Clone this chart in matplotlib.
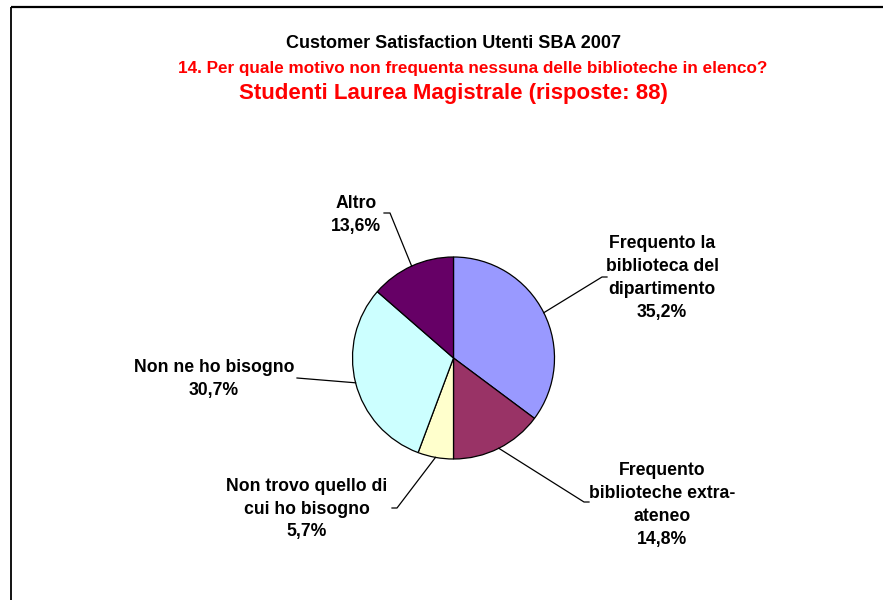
import numpy as np
import matplotlib
matplotlib.use("Agg")
import matplotlib.pyplot as plt

plt.rcParams['font.family'] = ['Liberation Sans', 'DejaVu Sans']

labels = ["Frequento la\nbiblioteca del\ndipartimento",
          "Frequento\nbiblioteche extra-\nateneo",
          "Non trovo quello di\ncui ho bisogno",
          "Non ne ho bisogno",
          "Altro"]
values = [35.2, 14.8, 5.7, 30.7, 13.6]
pct_text = ["35,2%", "14,8%", "5,7%", "30,7%", "13,6%"]
colors = ["#9999FF", "#993366", "#FFFFCC", "#CCFFFF", "#660066"]

W, H = 883, 600
fig = plt.figure(figsize=(W / 100, H / 100), dpi=100)
ax = fig.add_axes([0, 0, 1, 1])
ax.set_xlim(0, W)
ax.set_ylim(0, H)
ax.set_aspect('equal')
ax.axis('off')

def Y(yp):
    return H - yp

# frame
ax.plot([10.5, 10.5], [Y(6.5), Y(600)], color='black', lw=1.3, solid_capstyle='butt')
ax.plot([10.5, W], [Y(6.5), Y(6.5)], color='black', lw=1.6, solid_capstyle='butt')

# titles
ax.text(454, Y(44), "Customer Satisfaction Utenti SBA 2007", ha='center', va='center',
        fontsize=13, fontweight='bold', color='black')
ax.text(473, Y(68), "14. Per quale motivo non frequenta nessuna delle biblioteche in elenco?",
        ha='center', va='center', fontsize=12.3, fontweight='bold', color='#FF0000')
ax.text(453, Y(94), "Studenti Laurea Magistrale (risposte: 88)", ha='center', va='center',
        fontsize=16, fontweight='bold', color='#FF0000')

cx, cy, R = 453.5, Y(358), 101
wedges, _ = ax.pie(values, colors=colors, startangle=90, counterclock=False,
                   center=(cx, cy), radius=R,
                   wedgeprops=dict(edgecolor='black', linewidth=0.9))
ax.set_xlim(0, W)
ax.set_ylim(0, H)

# label layout (pixel positions) and leader elbows
label_pos = [(662, 278), (662, 505), (307, 509), (214, 379), (356, 215)]
elbows = [[(602, 277), (607, 277)],
          [(584, 502), (589, 502)],
          [(397, 508), (392, 508)],
          [(297, 378)],
          [(390, 213), (384, 213)]]

for w, lab, pct, (lx, ly), elb in zip(wedges, labels, pct_text, label_pos, elbows):
    ang = np.deg2rad((w.theta1 + w.theta2) / 2)
    sx, sy = cx + R * np.cos(ang), cy + R * np.sin(ang)
    xs = [sx] + [p[0] for p in elb]
    ys = [sy] + [Y(p[1]) for p in elb]
    ax.plot(xs, ys, color='black', lw=0.9)
    ax.text(lx, Y(ly), lab + "\n" + pct, ha='center', va='center', fontsize=12.7,
            fontweight='bold', color='black', linespacing=1.46, multialignment='center')

fig.savefig("out.png", dpi=100)
